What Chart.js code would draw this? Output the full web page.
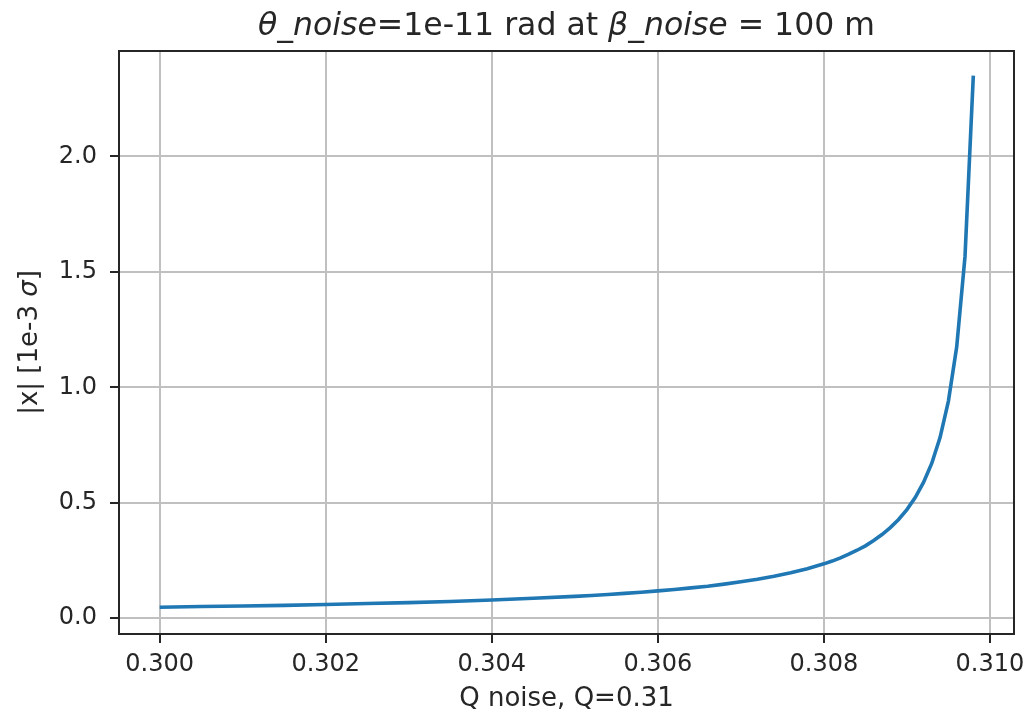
<!DOCTYPE html>
<html>
<head>
<meta charset="utf-8">
<script src="https://cdn.jsdelivr.net/npm/chart.js@4.4.0/dist/chart.umd.min.js"></script>
<style>
  html, body { margin: 0; padding: 0; background: #fff; }
</style>
</head>
<body>
<canvas id="noiseChart" width="1028" height="715"></canvas>
<script>
// Q noise values (x) and |x| amplitude in units of 1e-3 sigma (y)
const qNoise = [
  0.3000, 0.3005, 0.3010, 0.3015, 0.3020, 0.3025, 0.3030, 0.3035, 0.3040, 0.3045,
  0.3050, 0.3052, 0.3054, 0.3056, 0.3058, 0.3060, 0.3062, 0.3064, 0.3066, 0.3068,
  0.3070, 0.3072, 0.3074, 0.3076, 0.3078, 0.3080, 0.3081, 0.3082, 0.3083, 0.3084,
  0.3085, 0.3086, 0.3087, 0.3088, 0.3089, 0.3090, 0.3091, 0.3092, 0.3093, 0.3094,
  0.3095, 0.3096, 0.3097, 0.3098
];
const xAmplitude = [
  0.047, 0.050, 0.052, 0.055, 0.059, 0.063, 0.067, 0.072, 0.078, 0.086,
  0.094, 0.098, 0.102, 0.107, 0.112, 0.118, 0.124, 0.131, 0.138, 0.147,
  0.157, 0.168, 0.181, 0.196, 0.214, 0.235, 0.247, 0.261, 0.277, 0.294,
  0.313, 0.336, 0.362, 0.392, 0.427, 0.470, 0.522, 0.588, 0.671, 0.783,
  0.940, 1.175, 1.567, 2.350
];

const xTickValues = [0.300, 0.302, 0.304, 0.306, 0.308, 0.310];
const xTickLabels = ['0.300', '0.302', '0.304', '0.306', '0.308', '0.310'];
const yTickValues = [0.0, 0.5, 1.0, 1.5, 2.0];
const yTickLabels = ['0.0', '0.5', '1.0', '1.5', '2.0'];

const textColor = '#262626';
const fontFamily = "'DejaVu Sans', sans-serif";
Chart.defaults.font.family = fontFamily;
Chart.defaults.font.size = 24;
Chart.defaults.color = textColor;

// title and y label mix italic / upright pieces, like the mathtext original
const titleParts = [
  { text: 'θ_noise', italic: true },
  { text: '=1e-11 rad at ', italic: false },
  { text: 'β_noise', italic: true },
  { text: ' = 100 m', italic: false }
];
const yLabelParts = [
  { text: '|x| [1e-3 ', italic: false },
  { text: 'σ', italic: true },
  { text: ']', italic: false }
];

function drawParts(ctx, parts, size, cx, baseline) {
  const fontFor = p => (p.italic ? 'italic ' : '') + size + 'px ' + fontFamily;
  let total = 0;
  parts.forEach(p => { ctx.font = fontFor(p); total += ctx.measureText(p.text).width; });
  let x = cx - total / 2;
  parts.forEach(p => {
    ctx.font = fontFor(p);
    ctx.fillText(p.text, x, baseline);
    x += ctx.measureText(p.text).width;
  });
}

const mixedText = {
  id: 'mixedText',
  afterDraw(chart) {
    const ctx = chart.ctx;
    const area = chart.chartArea;
    ctx.save();
    ctx.fillStyle = textColor;
    ctx.textBaseline = 'alphabetic';
    ctx.textAlign = 'left';
    drawParts(ctx, titleParts, 31.5, (area.left + area.right) / 2, 35);
    ctx.translate(37, (area.top + area.bottom) / 2);
    ctx.rotate(-Math.PI / 2);
    drawParts(ctx, yLabelParts, 26, 0, 0);
    ctx.restore();
  }
};

const frame = {
  id: 'frame',
  afterDraw(chart) {
    const { ctx, chartArea: a } = chart;
    ctx.save();
    ctx.strokeStyle = textColor;
    ctx.lineWidth = 2;
    ctx.strokeRect(a.left, a.top, a.right - a.left, a.bottom - a.top);
    ctx.restore();
  }
};

const gridStyle = { color: '#c0c0c0', lineWidth: 2, tickColor: textColor, tickLength: 9, tickWidth: 2 };

new Chart(document.getElementById('noiseChart'), {
  type: 'line',
  data: {
    datasets: [{
      data: qNoise.map((q, i) => ({ x: q, y: xAmplitude[i] })),
      borderColor: '#1f77b4',
      borderWidth: 3.6,
      pointRadius: 0,
      tension: 0,
      fill: false
    }]
  },
  options: {
    responsive: false,
    animation: false,
    layout: { padding: { top: 51, right: 14, left: 0, bottom: 0 } },
    plugins: { legend: { display: false }, tooltip: { enabled: false }, title: { display: false } },
    scales: {
      x: {
        type: 'linear',
        min: 0.29951,
        max: 0.31029,
        afterBuildTicks: scale => { scale.ticks = xTickValues.map(v => ({ value: v })); },
        afterFit: scale => {
          scale.height = 81;
          scale.paddingLeft = 0;
          scale.paddingRight = 0;
        },
        ticks: {
          autoSkip: false,
          maxRotation: 0,
          padding: 7,
          callback: (value, index) => xTickLabels[index]
        },
        grid: gridStyle,
        border: { display: false },
        title: { display: true, text: 'Q noise, Q=0.31', font: { size: 26 }, padding: { top: 0, bottom: 0 } }
      },
      y: {
        min: -0.069,
        max: 2.457,
        afterBuildTicks: scale => { scale.ticks = yTickValues.map(v => ({ value: v })); },
        afterFit: scale => {
          scale.width = 119;
          scale.paddingTop = 0;
          scale.paddingBottom = 0;
        },
        ticks: {
          padding: 13,
          callback: (value, index) => yTickLabels[index]
        },
        grid: gridStyle,
        border: { display: false }
      }
    }
  },
  plugins: [mixedText, frame]
});
</script>
</body>
</html>
